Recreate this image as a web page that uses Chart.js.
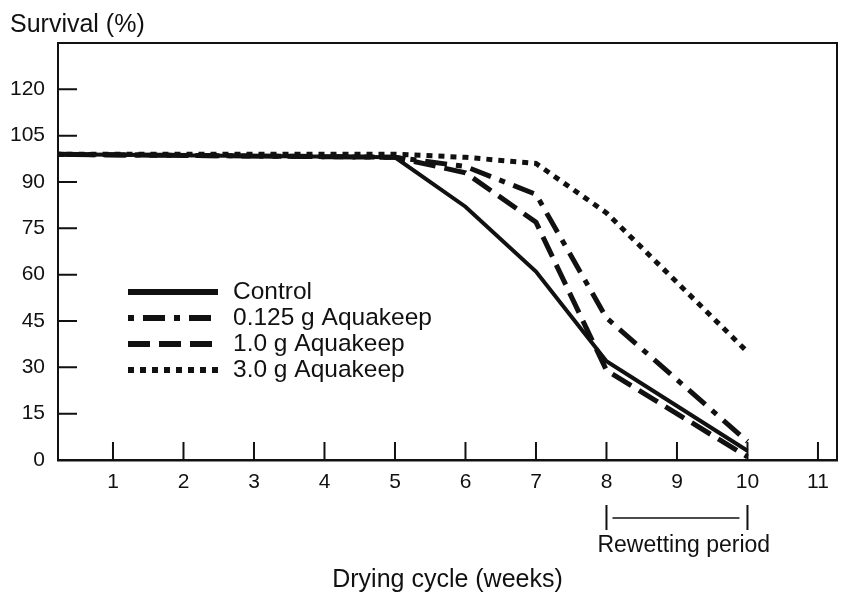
<!DOCTYPE html>
<html>
<head>
<meta charset="utf-8">
<script src="https://cdn.jsdelivr.net/npm/chart.js@4/dist/chart.umd.min.js"></script>
<style>
  body { margin: 0; background: #fff; }
  canvas { display: block; }
</style>
</head>
<body>
<canvas id="survivalChart" width="841" height="593"></canvas>
<script>
// valeurs
const weeks = [0, 5, 6, 7, 8, 10];
const control = [99, 98, 82, 61, 32, 3];
const aqua0125 = [99, 98, 95, 86, 46, 6];
const aqua10 = [99, 98, 93, 77, 29, 1];
const aqua30 = [99, 99, 98, 96, 80, 35];
const seriesNames = ["Control", "0.125 g Aquakeep", "1.0 g Aquakeep", "3.0 g Aquakeep"];
const rewetting = [8, 10];
const ink = "#111";
const fontFamily = "'Liberation Sans', Arial, sans-serif";

function points(values) {
    return weeks.map(function (w, i) { return { x: w, y: values[i] }; });
}

// cadre, graduations intérieures, légende et annotations
const decorations = {
    id: "decorations",
    afterDraw: function (chart) {
        const ctx = chart.ctx;
        const area = chart.chartArea;
        const xs = chart.scales.x;
        const ys = chart.scales.y;
        ctx.save();
        ctx.strokeStyle = ink;
        ctx.fillStyle = ink;
        ctx.lineWidth = 2;
        ctx.setLineDash([]);
        ctx.beginPath();
        ctx.moveTo(area.left, area.top);
        ctx.lineTo(area.right, area.top);
        ctx.lineTo(area.right, area.bottom);
        ctx.stroke();

        ctx.beginPath();
        xs.ticks.forEach(function (t) {
            if (t.value >= 1 && t.value <= 11) {
                const px = xs.getPixelForValue(t.value);
                ctx.moveTo(px, area.bottom);
                ctx.lineTo(px, area.bottom - 18);
            }
        });
        ys.ticks.forEach(function (t) {
            if (t.value > 0 && t.value <= 120) {
                const py = ys.getPixelForValue(t.value);
                ctx.moveTo(area.left, py);
                ctx.lineTo(area.left + 19, py);
            }
        });
        ctx.stroke();

        // légende
        ctx.font = "24.5px " + fontFamily;
        ctx.textBaseline = "middle";
        ctx.textAlign = "left";
        chart.data.datasets.forEach(function (ds, i) {
            const y = 292 + i * 26;
            ctx.lineWidth = 6;
            ctx.setLineDash(ds.borderDash || []);
            ctx.beginPath();
            ctx.moveTo(128, y);
            ctx.lineTo(218, y);
            ctx.stroke();
            ctx.fillText(ds.label, 233, y);
        });

        // titre de l'axe y
        ctx.font = "25px " + fontFamily;
        ctx.fillText("Survival (%)", 10, 25);

        // période de réhumidification
        ctx.setLineDash([]);
        ctx.lineWidth = 2;
        const x1 = xs.getPixelForValue(rewetting[0]);
        const x2 = xs.getPixelForValue(rewetting[1]);
        ctx.beginPath();
        ctx.moveTo(x1, 505);
        ctx.lineTo(x1, 530);
        ctx.moveTo(x2, 505);
        ctx.lineTo(x2, 530);
        ctx.stroke();
        ctx.lineWidth = 1.5;
        ctx.beginPath();
        ctx.moveTo(x1 + 6, 518);
        ctx.lineTo(x2 - 8, 518);
        ctx.stroke();
        ctx.font = "23px " + fontFamily;
        ctx.fillText("Rewetting period", x1 - 9, 546);
        ctx.restore();
    }
};

document.addEventListener("DOMContentLoaded", function () {
    let canvas = document.getElementById("survivalChart");
    new Chart(canvas, {
        type: "line",
        data: {
            datasets: [
                { label: seriesNames[0], data: points(control), borderWidth: 4, borderDash: [] },
                { label: seriesNames[1], data: points(aqua0125), borderWidth: 5, borderDash: [6, 9, 22, 9] },
                { label: seriesNames[2], data: points(aqua10), borderWidth: 5, borderDash: [22, 9] },
                { label: seriesNames[3], data: points(aqua30), borderWidth: 5, borderDash: [6, 6] },
            ].map(function (ds) {
                ds.borderColor = ink;
                ds.backgroundColor = ink;
                ds.pointRadius = 0;
                ds.tension = 0;
                ds.fill = false;
                return ds;
            }),
        },
        options: {
            responsive: false,
            animation: false,
            layout: { padding: { top: 43, right: 4, left: 0, bottom: 0 } },
            plugins: {
                legend: { display: false },
                tooltip: { enabled: false },
            },
            scales: {
                x: {
                    type: "linear",
                    min: 0.22,
                    max: 11.27,
                    afterFit: function (scale) { scale.height = 133; },
                    grid: { display: false, drawTicks: false },
                    border: { display: true, color: ink, width: 2.5 },
                    ticks: {
                        stepSize: 1,
                        includeBounds: false,
                        padding: 10,
                        color: ink,
                        font: { family: fontFamily, size: 21 },
                        callback: function (v) { return Number.isInteger(v) ? v : ""; },
                    },
                    title: {
                        display: true,
                        text: "Drying cycle (weeks)",
                        color: ink,
                        font: { family: fontFamily, size: 25, lineHeight: 1 },
                        padding: 0,
                    },
                },
                y: {
                    min: 0,
                    max: 135,
                    afterFit: function (scale) { scale.width = 58; },
                    grid: { display: false, drawTicks: false },
                    border: { display: true, color: ink, width: 2 },
                    ticks: {
                        stepSize: 15,
                        padding: 13,
                        color: ink,
                        font: { family: fontFamily, size: 21 },
                        callback: function (v) { return v <= 120 ? v : ""; },
                    },
                },
            },
        },
        plugins: [decorations],
    });
});
</script>
</body>
</html>
